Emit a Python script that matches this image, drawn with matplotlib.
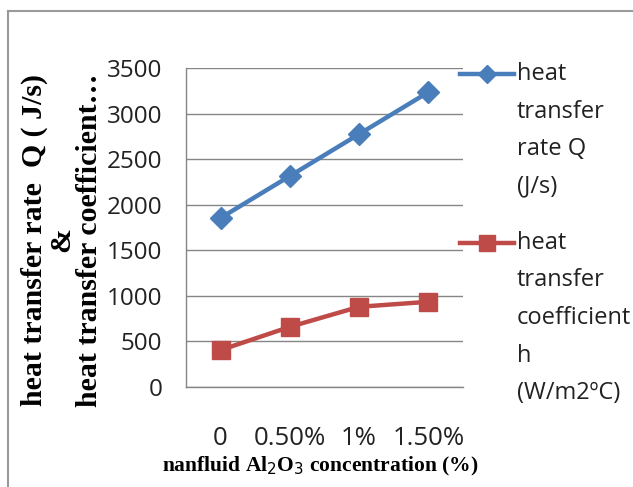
import matplotlib.pyplot as plt
from matplotlib.lines import Line2D

concentration = ['0', '0.50%', '1%', '1.50%']
heat_rate = [1855, 2315, 2775, 3235]
heat_coeff = [405, 660, 880, 935]
y_ticks = [0, 500, 1000, 1500, 2000, 2500, 3000, 3500]

blue = '#4A7EBB'
red = '#BE4B48'
tick_font = 'Open Sans'
label_font = 'Liberation Serif'

W, H = 633, 487
fig = plt.figure(figsize=(W / 100, H / 100), dpi=100)
ax = fig.add_axes([186 / W, 1 - 387 / H, 277 / W, 319 / H])

x = range(len(concentration))
ax.plot(x, heat_rate, color=blue, lw=3.2, marker='D', ms=11, clip_on=False)
ax.plot(x, heat_coeff, color=red, lw=3.2, marker='s', ms=13, clip_on=False)

ax.set_xlim(-0.5, 3.5)
ax.set_ylim(0, 3500)
ax.set_yticks(y_ticks)
ax.set_yticklabels([str(v) for v in y_ticks], fontfamily=tick_font, fontsize=17.5, color='#222222')
ax.set_xticks(list(x))
ax.set_xticklabels(concentration, fontfamily=tick_font, fontsize=18.5, color='#222222')
ax.tick_params(axis='y', length=0, pad=17)
ax.tick_params(axis='x', length=0, pad=28)
ax.grid(axis='y', color='#868686', lw=1)
ax.set_axisbelow(True)
for s in ['top', 'right']:
    ax.spines[s].set_visible(False)
for s in ['left', 'bottom']:
    ax.spines[s].set_color('#868686')
    ax.spines[s].set_linewidth(1)

# axis titles
fig.text(320 / W, 1 - 466 / H, 'nanfluid Al$_2$O$_3$ concentration (%)', ha='center', va='center',
         fontfamily=label_font, fontweight='bold', fontsize=15.5)
fig.text(62 / W, 1 - 240 / H, 'heat transfer rate  Q ( J/s)\n&\nheat transfer coefficient…',
         ha='center', va='center', rotation=90, fontfamily=label_font, fontweight='bold',
         fontsize=21.5, linespacing=1.02)

# legend
def legend_entry(y_px, color, marker, ms, lines):
    fig.add_artist(Line2D([460 / W, 514 / W], [1 - y_px / H] * 2, color=color, lw=3.2))
    fig.add_artist(Line2D([487 / W], [1 - y_px / H], color=color, marker=marker, ms=ms))
    for i, t in enumerate(lines):
        fig.text(517 / W, 1 - (y_px + i * 37.5) / H, t, ha='left', va='center',
                 fontfamily=tick_font, fontsize=17, color='#222222')

legend_entry(74, blue, 'D', 9, ['heat', 'transfer', 'rate Q', '(J/s)'])
legend_entry(243, red, 's', 12, ['heat', 'transfer', 'coefficient', 'h', '(W/m2ºC)'])

# outer frame
fig.add_artist(Line2D([8 / W, 8 / W], [0, 1 - 11 / H], color='#9a9a9a', lw=1.5))
fig.add_artist(Line2D([8 / W, 1], [1 - 11 / H] * 2, color='#9a9a9a', lw=1.5))

fig.savefig('out.png', dpi=100)
